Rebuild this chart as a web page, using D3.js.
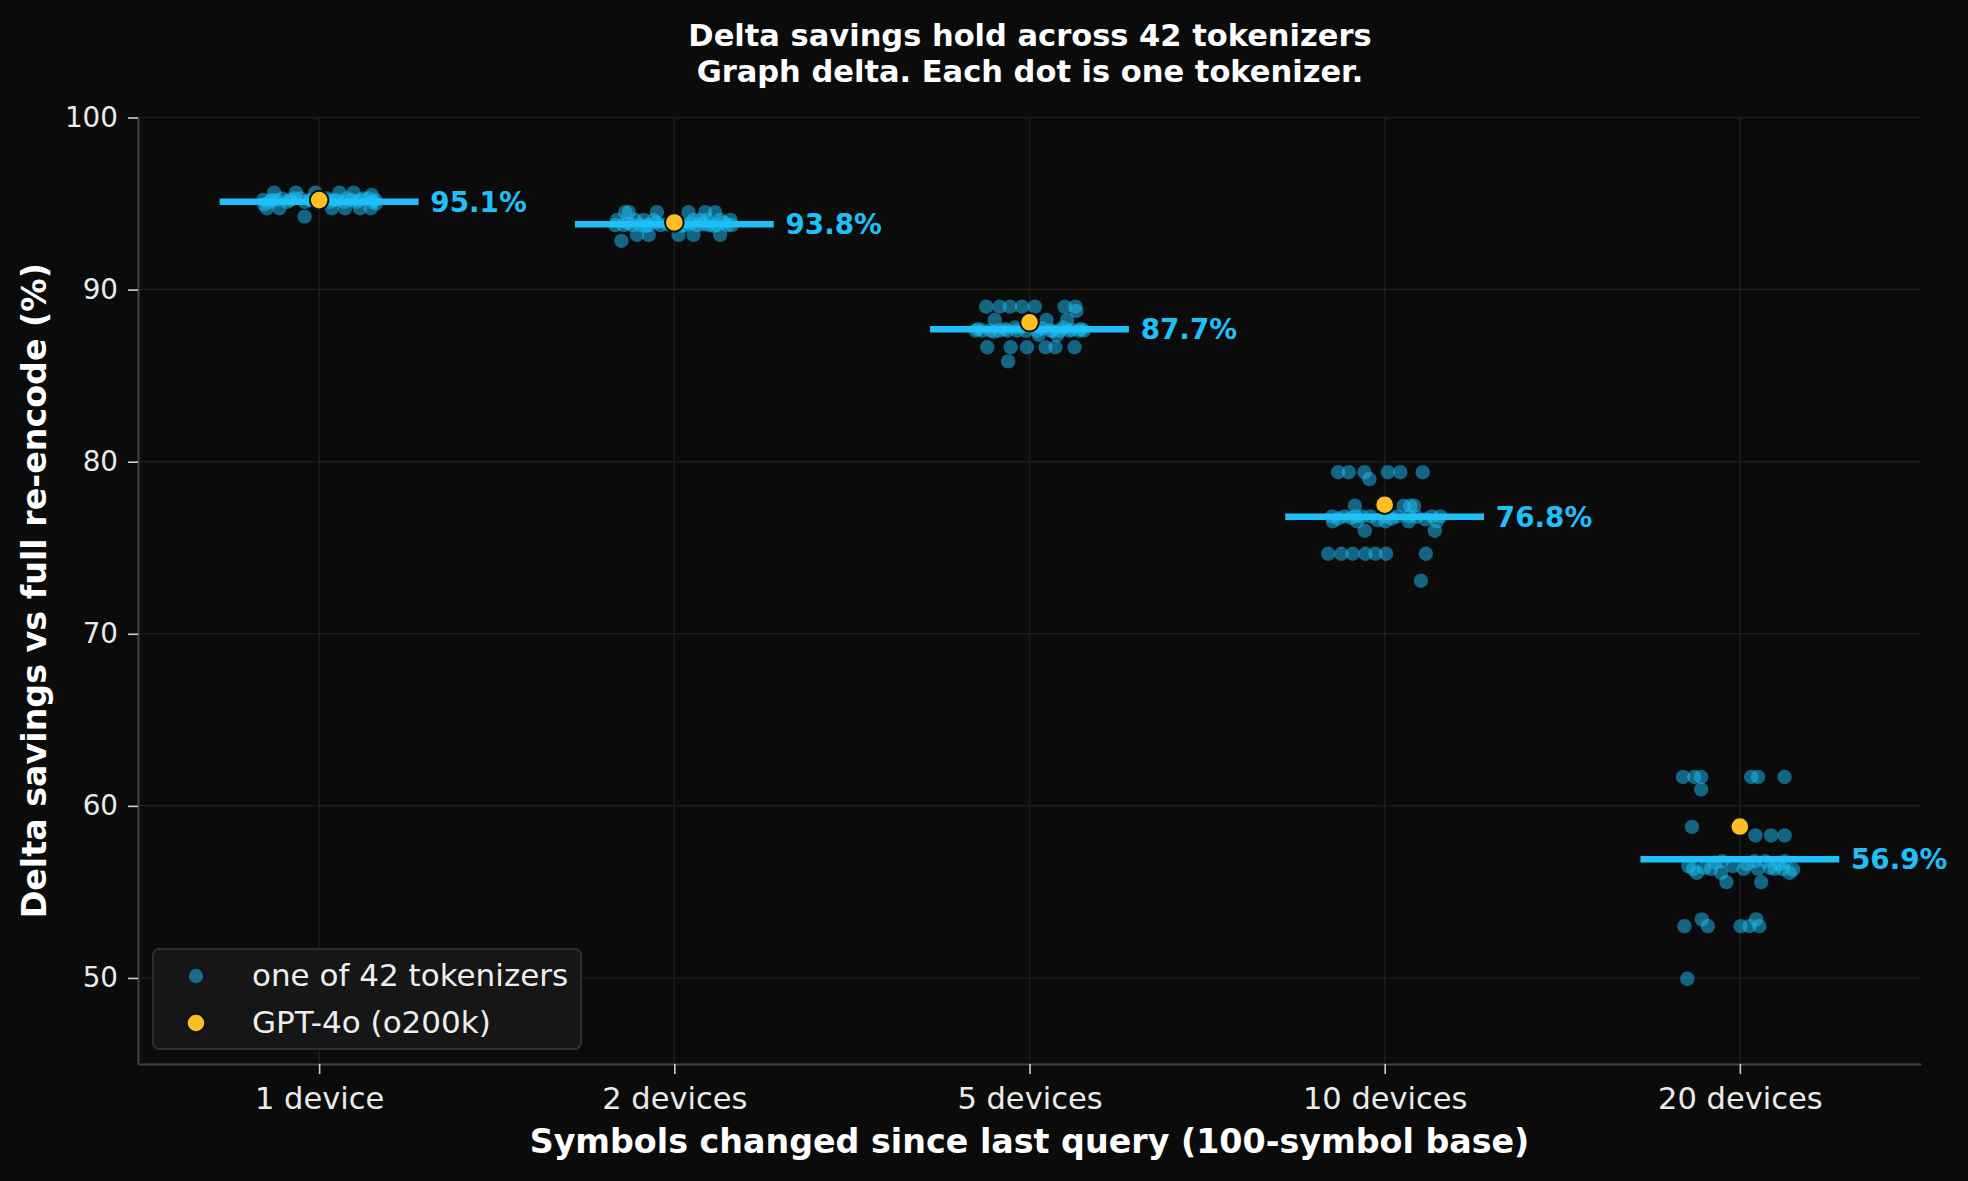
<!DOCTYPE html>
<html>
<head>
<meta charset="utf-8">
<script src="https://cdn.jsdelivr.net/npm/d3@7"></script>
<style>
body { margin: 0; background: #0b0b0b; }
text { font-family: "DejaVu Sans", sans-serif; }
</style>
</head>
<body>
<svg id="chart" width="1968" height="1181"></svg>
<script>
// categories and summary values
var categories = ["1 device", "2 devices", "5 devices", "10 devices", "20 devices"];
var medians = [95.1, 93.8, 87.7, 76.8, 56.9];
var gpt4o = [95.2, 93.9, 88.1, 77.5, 58.8];
var yTicks = [50, 60, 70, 80, 90, 100];

// one value per tokenizer (42 per category)
var savings = [
  [95.63, 95.63, 95.63, 95.63, 95.63, 95.5, 95.21, 95.21, 95.3, 95.21, 95.3, 95.21, 95.3, 95.21,
   95.3, 95.21, 95.3, 95.21, 94.73, 94.73, 94.73, 94.73, 94.73, 94.73, 94.24, 95.1, 95.2, 95.1,
   95.3, 95.1, 95.2, 95.1, 95.3, 95.1, 95.2, 95.1, 95.2, 95.1, 95.3, 95.1, 94.95, 95.0],
  [94.5, 94.5, 94.5, 94.5, 94.5, 94.5, 94.05, 94.05, 94.05, 94.05, 94.05, 94.05, 94.05, 94.05,
   94.05, 93.75, 93.75, 93.75, 93.75, 93.75, 93.75, 93.75, 93.75, 93.75, 93.75, 93.75, 93.75,
   93.18, 93.18, 93.18, 93.18, 93.18, 92.83, 93.85, 93.7, 93.9, 93.8, 93.7, 93.85, 93.8, 93.7, 93.9],
  [89.01, 89.01, 89.01, 89.01, 89.01, 89.01, 89.01, 88.76, 88.24, 88.24, 88.24, 87.62, 87.62, 87.62,
   87.62, 87.62, 87.62, 87.62, 87.62, 87.62, 87.62, 87.62, 87.62, 87.37, 87.37, 86.65, 86.65, 86.65,
   86.65, 86.65, 86.65, 85.83, 87.7, 87.55, 87.7, 87.8, 87.6, 87.75, 87.6, 87.8, 87.65, 87.7],
  [79.39, 79.39, 79.39, 79.39, 79.39, 79.39, 78.99, 77.44, 77.44, 77.44, 77.44, 76.82, 76.82, 76.82,
   76.82, 76.82, 76.82, 76.82, 76.82, 76.82, 76.82, 76.53, 76.53, 76.53, 76.53, 76.53, 75.99, 75.99,
   74.65, 74.65, 74.65, 74.65, 74.65, 74.65, 74.65, 73.08, 76.7, 76.75, 76.6, 76.7, 76.8, 76.65],
  [61.68, 61.68, 61.68, 61.68, 61.68, 61.68, 60.95, 58.78, 58.28, 58.28, 58.28, 56.78, 56.78, 56.78,
   56.78, 56.34, 56.34, 56.34, 56.34, 56.34, 56.34, 56.11, 56.11, 56.11, 55.57, 55.57, 53.4, 53.4,
   53.01, 53.01, 53.01, 53.01, 53.01, 49.95, 56.5, 56.4, 56.7, 56.5, 56.6, 56.4, 56.6, 56.3]
];

// horizontal jitter of each dot, in category units
var jitter = [
  [-0.127, -0.065, -0.011, 0.057, 0.097, 0.148, -0.157, -0.133, -0.105, -0.082, -0.053, -0.025, 0.022, 0.04,
   0.078, 0.115, 0.139, 0.158, -0.147, -0.112, 0.036, 0.073, 0.115, 0.145, -0.041, -0.14, -0.12, -0.09,
   -0.07, -0.04, -0.02, 0.0, 0.01, 0.03, 0.05, 0.07, 0.09, 0.105, 0.125, 0.15, -0.155, 0.16],
  [-0.138, -0.128, -0.049, 0.04, 0.087, 0.115, -0.161, -0.11, -0.086, -0.058, 0.054, 0.073, 0.092, 0.129,
   0.158, -0.166, -0.143, -0.119, -0.096, -0.072, -0.039, 0.031, 0.064, 0.097, 0.12, 0.148, 0.162,
   -0.105, -0.072, 0.012, 0.054, 0.129, -0.149, -0.13, -0.08, -0.05, -0.02, 0.02, 0.045, 0.08, 0.11, 0.14],
  [-0.122, -0.084, -0.055, -0.021, 0.015, 0.099, 0.129, 0.132, -0.098, 0.048, 0.106, -0.152, -0.133, -0.11,
   -0.086, -0.063, -0.035, 0.022, 0.059, 0.087, 0.111, 0.139, 0.153, 0.026, 0.078, -0.119, -0.053, -0.007,
   0.045, 0.073, 0.127, -0.06, -0.145, -0.1, -0.07, -0.04, -0.01, 0.035, 0.065, 0.095, 0.12, 0.145],
  [-0.131, -0.101, -0.057, 0.009, 0.044, 0.107, -0.043, -0.084, 0.053, 0.072, 0.083, -0.148, -0.113, -0.081,
   -0.064, -0.04, 0.002, 0.035, 0.068, 0.133, 0.157, -0.146, -0.078, 0.002, 0.068, 0.147, -0.056, 0.141,
   -0.159, -0.122, -0.09, -0.054, -0.026, 0.004, 0.116, 0.102, -0.13, -0.095, -0.02, 0.02, 0.09, 0.115],
  [-0.16, -0.128, -0.109, 0.032, 0.051, 0.126, -0.109, -0.135, 0.044, 0.088, 0.126, -0.05, 0.041, 0.072,
   0.126, -0.132, -0.081, 0.011, 0.051, 0.098, 0.121, -0.121, -0.053, 0.14, -0.038, 0.06, -0.107, 0.046,
   -0.156, -0.09, 0.002, 0.027, 0.055, -0.148, -0.145, -0.1, -0.07, -0.02, 0.02, 0.085, 0.11, 0.15]
];

var cyan = "#1ec0f7",
    gold = "#fbbf24";

var margin = {top: 117.5, right: 47, bottom: 117, left: 138},
    width = 1968 - margin.left - margin.right,
    height = 1181 - margin.top - margin.bottom;

var x = d3.scaleLinear().domain([-0.51, 4.51]).range([0, width]);
var y = d3.scaleLinear().domain([45, 100]).range([height, 0]);

var svg = d3.select("#chart");
svg.append("rect").attr("width", 1968).attr("height", 1181).attr("fill", "#0b0b0b");

var g = svg.append("g")
    .attr("transform", "translate(" + margin.left + "," + margin.top + ")");

// grid
g.selectAll(".hgrid").data(yTicks).enter().append("line")
    .attr("x1", 0).attr("x2", width)
    .attr("y1", function(d) { return y(d); }).attr("y2", function(d) { return y(d); })
    .attr("stroke", "#1d1d1d").attr("stroke-width", 1.5);
g.selectAll(".vgrid").data(categories).enter().append("line")
    .attr("x1", function(d, i) { return x(i); }).attr("x2", function(d, i) { return x(i); })
    .attr("y1", 0).attr("y2", height)
    .attr("stroke", "#1d1d1d").attr("stroke-width", 1.5);

// axes
var yAxis = g.append("g")
    .call(d3.axisLeft(y).tickValues(yTicks).tickSize(10).tickSizeOuter(0).tickPadding(10));
var xAxis = g.append("g")
    .attr("transform", "translate(0," + height + ")")
    .call(d3.axisBottom(x).tickValues(d3.range(categories.length))
        .tickFormat(function(i) { return categories[i]; })
        .tickSize(10).tickSizeOuter(0).tickPadding(13));

[yAxis, xAxis].forEach(function(a) {
    a.select(".domain").attr("stroke", "#444").attr("stroke-width", 2);
    a.selectAll(".tick line").attr("stroke", "#cfcfcf").attr("stroke-width", 1.6);
    a.selectAll("text").attr("fill", "#eaeaea").style("font-family", "DejaVu Sans");
});
yAxis.selectAll("text").style("font-size", "27.8px");
xAxis.selectAll("text").style("font-size", "30.5px");

// tokenizer dots
savings.forEach(function(vals, ci) {
    g.append("g").selectAll("circle").data(vals).enter().append("circle")
        .attr("cx", function(d, i) { return x(ci + jitter[ci][i]); })
        .attr("cy", function(d) { return y(d); })
        .attr("r", 7.2)
        .attr("fill", cyan)
        .attr("fill-opacity", 0.5);
});

// median bars
g.selectAll(".median").data(medians).enter().append("line")
    .attr("x1", function(d, i) { return x(i - 0.28); })
    .attr("x2", function(d, i) { return x(i + 0.28); })
    .attr("y1", function(d) { return y(d); })
    .attr("y2", function(d) { return y(d); })
    .attr("stroke", cyan).attr("stroke-width", 6.5);

g.selectAll(".mlabel").data(medians).enter().append("text")
    .attr("x", function(d, i) { return x(i + 0.313); })
    .attr("y", function(d) { return y(d); })
    .attr("dy", "0.36em")
    .attr("fill", cyan)
    .style("font-size", "27.8px")
    .style("font-weight", "bold")
    .text(function(d) { return d.toFixed(1) + "%"; });

// GPT-4o
g.selectAll(".gpt").data(gpt4o).enter().append("circle")
    .attr("cx", function(d, i) { return x(i); })
    .attr("cy", function(d) { return y(d); })
    .attr("r", 9.3)
    .attr("fill", gold)
    .attr("stroke", "#111")
    .attr("stroke-width", 2);

// titles
svg.append("text")
    .attr("x", 1030).attr("y", 46)
    .attr("text-anchor", "middle").attr("fill", "#fff")
    .style("font-size", "30.5px").style("font-weight", "bold")
    .text("Delta savings hold across 42 tokenizers");
svg.append("text")
    .attr("x", 1030).attr("y", 82)
    .attr("text-anchor", "middle").attr("fill", "#fff")
    .style("font-size", "30.5px").style("font-weight", "bold")
    .text("Graph delta. Each dot is one tokenizer.");

svg.append("text")
    .attr("x", margin.left + width / 2).attr("y", 1153)
    .attr("text-anchor", "middle").attr("fill", "#fff")
    .style("font-size", "33.3px").style("font-weight", "bold")
    .text("Symbols changed since last query (100-symbol base)");

svg.append("text")
    .attr("transform", "translate(45.5," + (margin.top + height / 2) + ") rotate(-90)")
    .attr("text-anchor", "middle").attr("fill", "#fff")
    .style("font-size", "33.3px").style("font-weight", "bold")
    .text("Delta savings vs full re-encode (%)");

// legend
var legend = svg.append("g").attr("transform", "translate(153,949)");
legend.append("rect")
    .attr("width", 428).attr("height", 100).attr("rx", 6)
    .attr("fill", "#161616").attr("stroke", "#2e2e2e").attr("stroke-width", 2);
legend.append("circle").attr("cx", 43).attr("cy", 27).attr("r", 7.2)
    .attr("fill", cyan).attr("fill-opacity", 0.5);
legend.append("circle").attr("cx", 43).attr("cy", 74).attr("r", 9.3)
    .attr("fill", gold).attr("stroke", "#111").attr("stroke-width", 2);
legend.append("text").attr("x", 99).attr("y", 37).attr("fill", "#eee")
    .style("font-size", "31px").text("one of 42 tokenizers");
legend.append("text").attr("x", 99).attr("y", 84).attr("fill", "#eee")
    .style("font-size", "31px").text("GPT-4o (o200k)");
</script>
</body>
</html>
